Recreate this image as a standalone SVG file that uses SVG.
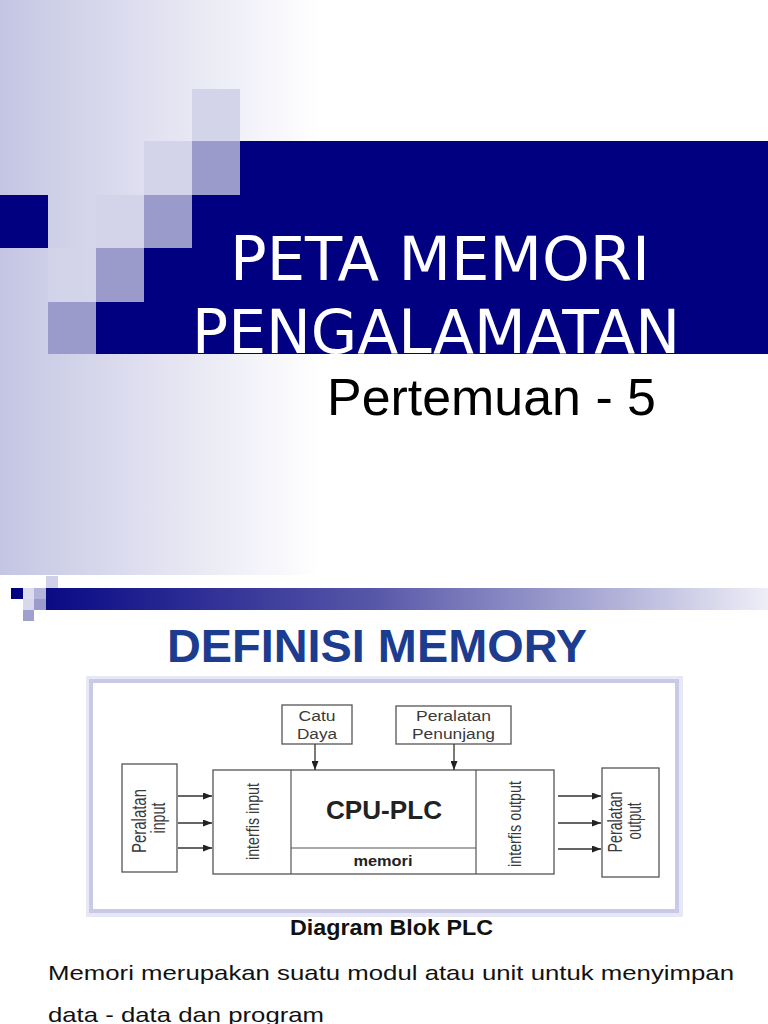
<svg xmlns="http://www.w3.org/2000/svg" width="768" height="1024" viewBox="0 0 768 1024">
<defs>
<linearGradient id="bgGrad" x1="0" y1="0" x2="320" y2="0" gradientUnits="userSpaceOnUse">
<stop offset="0" stop-color="#c4c5e3"/>
<stop offset="0.5" stop-color="#e2e2f1"/>
<stop offset="1" stop-color="#ffffff"/>
</linearGradient>
<linearGradient id="barGrad" x1="46" y1="0" x2="768" y2="0" gradientUnits="userSpaceOnUse">
<stop offset="0" stop-color="#0a0a85"/>
<stop offset="0.45" stop-color="#5656a8"/>
<stop offset="0.75" stop-color="#a6a6d3"/>
<stop offset="1" stop-color="#eeeef7"/>
</linearGradient>
<marker id="arrow" markerUnits="userSpaceOnUse" markerWidth="9" markerHeight="7" refX="9" refY="3.5" orient="auto">
<path d="M0,0 L9,3.5 L0,7 z" fill="#222"/>
</marker>
</defs>
<style>
.navy{fill:#000080}
.lt{fill:#d3d3ea}
.md{fill:#9a9acb}
.box{fill:#ffffff;stroke:#555;stroke-width:1.3}
.line{stroke:#555;stroke-width:1.2;fill:none}
.conn{stroke:#333;stroke-width:1.3;fill:none;marker-end:url(#arrow)}
.lbl{font-family:"Liberation Sans",Arial,sans-serif;fill:#3a3a3a;font-size:15.5px;text-anchor:middle}
.rot{font-family:"Liberation Sans",Arial,sans-serif;fill:#3a3a3a;font-size:21px;text-anchor:middle}
.title{font-family:"DejaVu Sans",Verdana,sans-serif;fill:#ffffff;font-size:60px}
</style>

<!-- top slide background -->
<rect x="0" y="0" width="768" height="575" fill="url(#bgGrad)"/>
<rect x="0" y="575" width="768" height="449" fill="#ffffff"/>

<!-- navy band with stepped squares -->
<polygon class="navy" points="240,141 768,141 768,354 96,354 96,302 144,302 144,248 192,248 192,195 240,195"/>
<rect class="navy" x="0" y="195" width="48" height="53"/>
<rect class="lt" x="192" y="89" width="48" height="52"/>
<rect class="lt" x="144" y="141" width="48" height="54"/>
<rect class="md" x="192" y="141" width="48" height="54"/>
<rect class="lt" x="96" y="195" width="48" height="53"/>
<rect class="md" x="144" y="195" width="48" height="53"/>
<rect class="lt" x="48" y="248" width="48" height="54" fill-opacity="0.8"/>
<rect class="md" x="96" y="248" width="48" height="54"/>
<rect class="md" x="48" y="302" width="48" height="52"/>

<text class="title" x="230" y="280" textLength="420" lengthAdjust="spacingAndGlyphs">PETA MEMORI</text>
<text class="title" x="192" y="353" textLength="488" lengthAdjust="spacingAndGlyphs">PENGALAMATAN</text>
<text x="327" y="415" font-family="'Liberation Sans',Arial,sans-serif" font-size="52" fill="#000" textLength="329" lengthAdjust="spacingAndGlyphs">Pertemuan - 5</text>

<!-- second slide header bar -->
<rect x="46" y="588" width="722" height="22" fill="url(#barGrad)"/>
<rect x="46" y="576" width="12" height="12" fill="#d0d0e8"/>
<rect class="navy" x="11" y="588" width="12" height="11"/>
<rect x="23" y="588" width="11" height="11" fill="#dcdcee"/>
<rect x="34" y="588" width="12" height="11" fill="#b4b4da"/>
<rect x="23" y="599" width="11" height="11" fill="#d8d8ec"/>
<rect x="34" y="599" width="12" height="11" fill="#9c9ccc"/>
<rect x="23" y="610" width="11" height="11" fill="#a0a0cf"/>

<text x="167" y="662" font-family="'Liberation Sans',Arial,sans-serif" font-weight="bold" font-size="46" fill="#1c3c90" textLength="420" lengthAdjust="spacingAndGlyphs">DEFINISI MEMORY</text>

<!-- diagram frame -->
<rect x="90" y="680" width="589" height="233" fill="none" stroke="#e8e8f5" stroke-width="8"/>
<rect x="91" y="681" width="586" height="230" fill="#ffffff" stroke="#c9c9e8" stroke-width="4"/>

<g id="catu-daya">
<rect class="box" x="282" y="705" width="70" height="39"/>
<text class="lbl" x="317" y="721" textLength="37" lengthAdjust="spacingAndGlyphs">Catu</text>
<text class="lbl" x="317" y="739" textLength="40" lengthAdjust="spacingAndGlyphs">Daya</text>
</g>
<g id="peralatan-penunjang">
<rect class="box" x="396" y="706" width="115" height="38"/>
<text class="lbl" x="453.5" y="721" textLength="75" lengthAdjust="spacingAndGlyphs">Peralatan</text>
<text class="lbl" x="453.5" y="739" textLength="83" lengthAdjust="spacingAndGlyphs">Penunjang</text>
</g>
<g id="peralatan-input">
<rect class="box" x="122" y="764" width="55" height="108"/>
<text class="rot" transform="translate(146,821) rotate(-90)" textLength="64" lengthAdjust="spacingAndGlyphs">Peralatan</text>
<text class="rot" transform="translate(165,818) rotate(-90)" textLength="31" lengthAdjust="spacingAndGlyphs">input</text>
</g>
<g id="plc">
<rect class="box" x="213" y="770" width="341" height="104"/>
<line class="line" x1="291" y1="770" x2="291" y2="874"/>
<line class="line" x1="476" y1="770" x2="476" y2="874"/>
<line class="line" x1="291" y1="848" x2="476" y2="848"/>
</g>
<g id="interfis-input">
<text class="rot" transform="translate(259,821.5) rotate(-90)" style="font-size:18px" textLength="77" lengthAdjust="spacingAndGlyphs">interfis input</text>
</g>
<g id="cpu-plc">
<text x="384" y="819" font-family="'Liberation Sans',Arial,sans-serif" font-weight="bold" font-size="25" fill="#222" text-anchor="middle" textLength="116" lengthAdjust="spacingAndGlyphs">CPU-PLC</text>
</g>
<g id="memori">
<text x="383" y="866" font-family="'Liberation Sans',Arial,sans-serif" font-weight="bold" font-size="14" fill="#222" text-anchor="middle" textLength="59" lengthAdjust="spacingAndGlyphs">memori</text>
</g>
<g id="interfis-output">
<text class="rot" transform="translate(521,824) rotate(-90)" style="font-size:18px" textLength="86" lengthAdjust="spacingAndGlyphs">interfis output</text>
</g>
<g id="peralatan-output">
<rect class="box" x="602" y="768" width="57" height="109"/>
<text class="rot" transform="translate(622,822) rotate(-90)" textLength="61" lengthAdjust="spacingAndGlyphs">Peralatan</text>
<text class="rot" transform="translate(641,821) rotate(-90)" textLength="37" lengthAdjust="spacingAndGlyphs">output</text>
</g>

<g id="connectors">
<line class="conn" x1="315" y1="744" x2="315" y2="770"/>
<line class="conn" x1="454" y1="744" x2="454" y2="770"/>
<line class="conn" x1="178" y1="796" x2="212" y2="796"/>
<line class="conn" x1="178" y1="823" x2="212" y2="823"/>
<line class="conn" x1="178" y1="848" x2="212" y2="848"/>
<line class="conn" x1="558" y1="796" x2="601" y2="796"/>
<line class="conn" x1="558" y1="823" x2="601" y2="823"/>
<line class="conn" x1="558" y1="849" x2="601" y2="849"/>
</g>

<text x="290" y="935" font-family="'Liberation Sans',Arial,sans-serif" font-weight="bold" font-size="22" fill="#111" textLength="203" lengthAdjust="spacingAndGlyphs">Diagram Blok PLC</text>
<text x="48" y="980" font-family="'Liberation Sans',Arial,sans-serif" font-size="21" fill="#111" textLength="686" lengthAdjust="spacingAndGlyphs">Memori merupakan suatu modul atau unit untuk menyimpan</text>
<text x="48" y="1022" font-family="'Liberation Sans',Arial,sans-serif" font-size="21" fill="#111" textLength="276" lengthAdjust="spacingAndGlyphs">data - data dan program</text>
</svg>
